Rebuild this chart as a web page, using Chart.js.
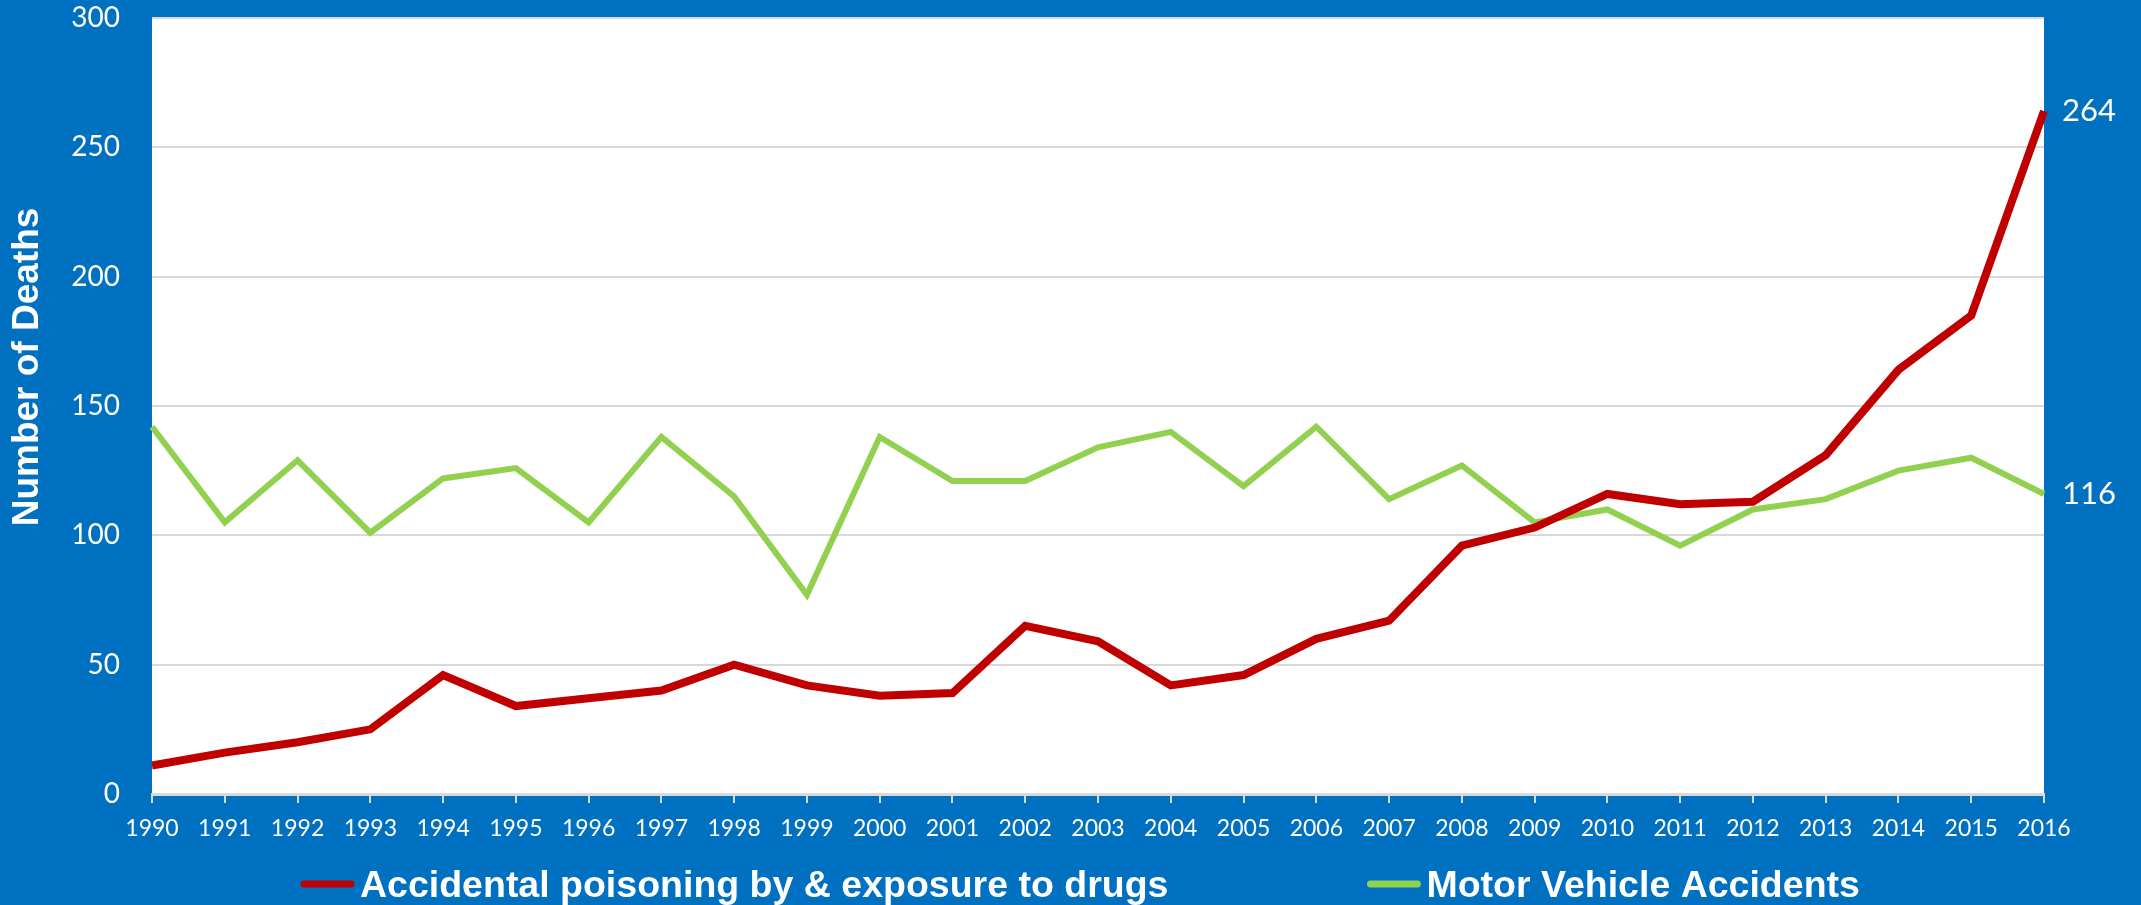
<!DOCTYPE html>
<html>
<head>
<meta charset="utf-8">
<script src="https://cdn.jsdelivr.net/npm/chart.js@4/dist/chart.umd.min.js"></script>
<style>
  html, body { margin: 0; padding: 0; background: #0070C0; }
  #wrap { width: 2141px; height: 905px; position: relative; }
</style>
</head>
<body>
<div id="wrap"><canvas id="deathsChart"></canvas></div>
<script>
const years = ["1990", "1991", "1992", "1993", "1994", "1995", "1996", "1997", "1998",
  "1999", "2000", "2001", "2002", "2003", "2004", "2005", "2006", "2007", "2008",
  "2009", "2010", "2011", "2012", "2013", "2014", "2015", "2016"];
const drugDeaths = [11, 16, 20, 25, 46, 34, 37, 40, 50, 42, 38, 39, 65, 59, 42, 46,
  60, 67, 96, 103, 116, 112, 113, 131, 164, 185, 264];
const motorDeaths = [142, 105, 129, 101, 122, 126, 105, 138, 115, 77, 138, 121, 121,
  134, 140, 119, 142, 114, 127, 105, 110, 96, 110, 114, 125, 130, 116];
const yMin = 0, yMax = 300, yStep = 50;
const seriesNames = ["Accidental poisoning by & exposure to drugs", "Motor Vehicle Accidents"];
const yTitle = "Number of Deaths";

const RED = "#C00000", GREEN = "#92D050", GRID = "#D9D9D9";
const tickFont = "Lato, 'Open Sans', sans-serif";
const boldFont = "'Liberation Sans', Arial, sans-serif";

// white plot area on blue page
const plotBg = {
  id: "plotBg",
  beforeDraw(chart) {
    const { ctx, chartArea: a } = chart;
    ctx.save();
    ctx.fillStyle = "#fff";
    ctx.fillRect(a.left, a.top, a.right - a.left, a.bottom - a.top);
    ctx.restore();
  }
};

// value at the end of each line
const endLabels = {
  id: "endLabels",
  afterDatasetsDraw(chart) {
    const ctx = chart.ctx;
    ctx.save();
    ctx.font = "31px " + tickFont;
    ctx.fillStyle = "#fff";
    ctx.textBaseline = "middle";
    ctx.textAlign = "left";
    chart.data.datasets.forEach((ds, i) => {
      const pts = chart.getDatasetMeta(i).data;
      const last = pts[pts.length - 1];
      ctx.fillText(String(ds.data[ds.data.length - 1]), last.x + 18, last.y);
    });
    ctx.restore();
  }
};

// rotated axis title, placed like the original
const axisTitle = {
  id: "axisTitle",
  afterDraw(chart) {
    const ctx = chart.ctx;
    ctx.save();
    ctx.translate(28, 367);
    ctx.rotate(-Math.PI / 2);
    ctx.font = "bold 37px " + boldFont;
    ctx.fillStyle = "#fff";
    ctx.textAlign = "center";
    ctx.textBaseline = "middle";
    ctx.fillText(yTitle, 0, 0);
    ctx.restore();
  }
};

// legend row at the bottom
const bottomLegend = {
  id: "bottomLegend",
  afterDraw(chart) {
    const ctx = chart.ctx;
    ctx.save();
    ctx.font = "bold 37.5px " + boldFont;
    const boxW = 55, boxGap = 5, itemGap = 198;
    let x = 300;
    const y = 884;
    chart.data.datasets.forEach(ds => {
      ctx.strokeStyle = ds.borderColor;
      ctx.lineWidth = 7;
      ctx.lineCap = "round";
      ctx.beginPath();
      ctx.moveTo(x + 4, y);
      ctx.lineTo(x + boxW - 4, y);
      ctx.stroke();
      ctx.fillStyle = "#fff";
      ctx.textBaseline = "alphabetic";
      ctx.fillText(ds.label, x + boxW + boxGap, y + 13);
      x += boxW + boxGap + ctx.measureText(ds.label).width + itemGap;
    });
    ctx.restore();
  }
};

new Chart(document.getElementById("deathsChart"), {
  type: "line",
  data: {
    labels: years,
    datasets: [
      {
        label: seriesNames[0],
        data: drugDeaths,
        borderColor: RED,
        borderWidth: 8,
        pointRadius: 0,
        tension: 0,
      },
      {
        label: seriesNames[1],
        data: motorDeaths,
        borderColor: GREEN,
        borderWidth: 6,
        pointRadius: 0,
        tension: 0,
      },
    ],
  },
  options: {
    responsive: true,
    maintainAspectRatio: false,
    animation: false,
    devicePixelRatio: 1,
    layout: { padding: { left: 0, right: 97, top: 18, bottom: 60 } },
    plugins: { legend: { display: false }, tooltip: { enabled: false } },
    scales: {
      x: {
        offset: false,
        grid: { drawOnChartArea: false, drawTicks: true, tickLength: 9, color: GRID, lineWidth: 2 },
        border: { display: true, color: GRID, width: 3 },
        ticks: { color: "#fff", font: { family: tickFont, size: 23 }, padding: 12, maxRotation: 0, autoSkip: false },
        afterFit(s) { s.height = 51; },
      },
      y: {
        min: yMin,
        max: yMax,
        grid: { color: GRID, lineWidth: 2, drawTicks: false },
        border: { display: false },
        ticks: { stepSize: yStep, color: "#fff", font: { family: tickFont, size: 28 }, padding: 32 },
        afterFit(s) { s.width = 152; s.paddingTop = 10; s.paddingBottom = 10; },
      },
    },
  },
  plugins: [plotBg, endLabels, axisTitle, bottomLegend],
});
</script>
</body>
</html>
